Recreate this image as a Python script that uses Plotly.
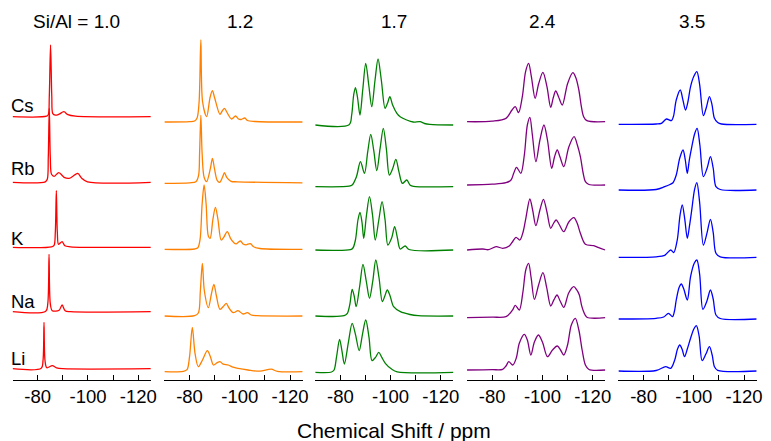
import plotly.graph_objects as go

# ---------------- data ----------------
COLUMN_TITLES = ["Si/Al = 1.0", "1.2", "1.7", "2.4", "3.5"]
CATIONS = ["Cs", "Rb", "K", "Na", "Li"]
TICK_VALUES = [-80, -100, -120]
TICK_LABELS = ["-80", "-100", "-120"]
X_TITLE = "Chemical Shift / ppm"

# each spectrum: (chemical shift / ppm, intensity / a.u.)
# Si/Al = 1.0
CS_10 = [(-70, 0), (-83.5, 0.5), (-84.2, 2), (-84.6, 20), (-85.1, 71.7), (-85.6, 20), (-86.0, 3),
         (-87.0, 1.5), (-88.5, 2.5), (-90.4, 5), (-92.0, 2), (-95, 0.5), (-125, 0)]
RB_10 = [(-70, 0), (-83.0, 0.5), (-83.8, 3), (-84.2, 25), (-84.6, 74), (-85.0, 25), (-85.5, 8),
         (-86.5, 6), (-88.4, 9.7), (-90.5, 5), (-92.5, 4), (-94.0, 6), (-95.9, 9), (-97.5, 4),
         (-99.8, 0.5), (-125, 0)]
K_10 = [(-70, 0), (-85.5, 0.5), (-86.5, 2), (-87.0, 15), (-87.4, 56.7), (-87.8, 15), (-88.3, 3),
        (-89.7, 5.7), (-90.8, 1.5), (-93, 0.5), (-125, 0)]
NA_10 = [(-70, 0), (-83.2, 0.5), (-84.0, 8), (-84.5, 57.3), (-85.0, 8), (-85.8, 1), (-88.5, 1.5),
         (-89.7, 6.7), (-90.9, 1), (-93, 0), (-125, 0)]
LI_10 = [(-70, 0), (-81.4, 0.5), (-82.1, 8), (-82.5, 46.3), (-82.9, 8), (-83.6, 1), (-85.8, 3),
         (-87.5, 0.8), (-90, 0), (-125, 0)]

# Si/Al = 1.2
CS_12 = [(-70, 0), (-80, 0.3), (-82, 1), (-83, 4), (-83.8, 20), (-84.5, 82), (-85.2, 20), (-86.8, 5.3),
         (-88.2, 25), (-89.1, 31.3), (-90.0, 24), (-92.1, 7.7), (-93.0, 11), (-93.9, 13.7), (-94.8, 10),
         (-96.7, 3), (-98.3, 6), (-99.5, 3), (-100.5, 2.5), (-102, 4), (-103, 1.5), (-106, 0.5), (-125, 0)]
RB_12 = [(-70, 0), (-80, 0.5), (-82.5, 1.5), (-83.6, 8), (-84.0, 30), (-84.5, 68), (-85.0, 30),
         (-85.8, 6), (-86.8, 1.7), (-88.3, 15), (-89.1, 25), (-89.9, 15), (-91.0, 3), (-92.0, 1),
         (-93.1, 6), (-93.9, 10.7), (-94.8, 6), (-96.5, 2), (-99, 1.5), (-125, 0.5)]
K_12 = [(-70, 0), (-82, 0.3), (-83.3, 1.5), (-84.2, 10), (-85.0, 45), (-85.8, 64.3), (-86.6, 45),
        (-87.5, 13), (-88.2, 11), (-89.3, 30), (-90.3, 42), (-91.3, 30), (-92.6, 9.3), (-93.6, 12),
        (-95.0, 17.7), (-96.3, 11), (-97.5, 7), (-98.5, 5.5), (-100.2, 8.3), (-101.5, 5), (-102.5, 4.5),
        (-104.2, 5.7), (-105.5, 2.5), (-108, 0.8), (-125, 0)]
NA_12 = [(-70, 0), (-82, 0.3), (-83.5, 3), (-84.3, 25), (-85.1, 52.7), (-85.9, 25), (-87.5, 8.3),
         (-88.7, 22), (-89.7, 31.7), (-90.7, 20), (-92.1, 6.7), (-93.6, 10), (-94.6, 12.7), (-95.7, 8),
         (-97.4, 3.3), (-99.3, 5.3), (-101.3, 2), (-103, 3.3), (-104.5, 1), (-107, 0.3), (-125, 0)]
LI_12 = [(-70, 0), (-77.5, 0.3), (-79.0, 2), (-80.0, 15), (-81.1, 44.3), (-82.2, 18), (-83.5, 5),
         (-85.2, 12), (-87.1, 21), (-88.3, 15), (-89.5, 6.7), (-91.0, 9), (-92.1, 10), (-93.4, 7.5),
         (-95.4, 6.7), (-97.3, 4.5), (-99.3, 3.3), (-103.3, 1.7), (-108, 0.5), (-112.5, 2.5),
         (-115, 0.3), (-125, 0)]

# Si/Al = 1.7
CS_17 = [(-70, 0), (-83.5, 0.3), (-84.5, 10), (-85.3, 30), (-86.0, 37.3), (-86.8, 28), (-87.8, 10),
         (-88.9, 35), (-90.1, 61.7), (-91.3, 40), (-92.5, 18.3), (-93.8, 45), (-95.0, 66), (-96.3, 45),
         (-97.8, 16.7), (-98.8, 22), (-99.7, 28.3), (-100.8, 20), (-102.5, 11.7), (-103.8, 8.3),
         (-106.4, 5), (-109, 3), (-111.7, 3.3), (-113.5, 1.5), (-115.6, 0.7), (-125, 0)]
RB_17 = [(-70, 0), (-83.5, 0.5), (-84.7, 1.7), (-86.4, 10), (-88.0, 25), (-89.6, 13.3), (-90.9, 35),
         (-92.1, 52.3), (-93.3, 36), (-94.5, 16), (-95.8, 38), (-97.1, 58.3), (-98.3, 38), (-99.5, 11.7),
         (-100.8, 18), (-102.1, 27.3), (-103.3, 15), (-104.7, 3.3), (-106.4, 6.7), (-107.8, 1.5),
         (-109.1, 0.3), (-125, 0)]
K_17 = [(-70, 0), (-84, 0.3), (-85.0, 2), (-86.0, 10), (-87.0, 30), (-87.8, 37.7), (-88.6, 28),
        (-89.3, 11.7), (-90.4, 35), (-91.6, 53.3), (-92.8, 35), (-93.9, 10), (-95.3, 30), (-96.6, 48.3),
        (-97.8, 30), (-98.9, 5), (-100.4, 12), (-101.6, 23.3), (-102.7, 12), (-103.8, 1), (-105.8, 4),
        (-107.3, 0.5), (-125, 0)]
NA_17 = [(-70, 0), (-81.5, 0.3), (-82.8, 2.7), (-83.8, 12), (-84.7, 26.7), (-85.5, 20), (-86.3, 9.3),
         (-87.7, 30), (-89.0, 51.7), (-90.3, 35), (-91.6, 17.7), (-92.9, 35), (-94.1, 56), (-95.4, 38),
         (-96.7, 14.3), (-97.7, 20), (-98.7, 26), (-99.8, 20), (-101.2, 9.3), (-103.9, 4.3),
         (-107.7, 1.5), (-111, 0.3), (-125, 0)]
LI_17 = [(-70, 0), (-76.5, 0.3), (-77.5, 2.3), (-78.5, 15.7), (-79.7, 33), (-80.6, 22), (-81.6, 8.3),
         (-83.2, 30), (-84.7, 49), (-86.0, 38), (-87.5, 21.7), (-88.8, 38), (-90.1, 52.3), (-91.4, 35),
         (-92.6, 11.7), (-94.0, 15), (-95.3, 20), (-96.5, 15), (-97.9, 9), (-100.5, 3), (-102.6, 0.5),
         (-125, 0)]

# Si/Al = 2.4
CS_24 = [(-70, 0), (-80, 0.5), (-85.5, 3.3), (-87.9, 11.7), (-89.2, 15), (-90.5, 9), (-92.0, 25),
         (-93.3, 50), (-94.5, 58.3), (-95.6, 45), (-97.1, 23.3), (-98.5, 38), (-100.2, 49.3),
         (-101.8, 35), (-103.3, 14.3), (-104.3, 24), (-105.3, 30.7), (-106.4, 25), (-107.9, 16.7),
         (-110.0, 38), (-112.1, 49), (-113.3, 44), (-114.5, 31.7), (-115.5, 15), (-116.4, 5),
         (-117.7, 1), (-125, 0)]
RB_24 = [(-70, 0), (-80, 0.8), (-85.5, 2.3), (-87.5, 5), (-88.6, 12), (-89.7, 17.7), (-91.4, 11.7),
         (-92.8, 30), (-94.0, 60), (-95.0, 67.7), (-96.0, 50), (-97.4, 23.3), (-99.0, 45), (-100.6, 60),
         (-102.0, 45), (-103.7, 16.7), (-104.8, 28), (-105.9, 35), (-107.0, 28), (-108.5, 18.3),
         (-110.5, 38), (-112.6, 48.3), (-113.9, 40), (-115.1, 28.3), (-116.2, 12), (-117.1, 3.3),
         (-118.5, 0.5), (-125, 0)]
K_24 = [(-70, 0), (-76.3, 1), (-78.5, 0.3), (-81.6, 3.3), (-84.2, 1.7), (-86.8, 4), (-88.3, 9),
        (-89.5, 12.7), (-91.0, 10), (-92.3, 18), (-93.4, 31.7), (-95.0, 51), (-96.1, 40), (-97.4, 24.3),
        (-99.0, 40), (-100.4, 50.7), (-101.8, 38), (-103.3, 21.7), (-104.5, 27), (-105.5, 30),
        (-106.8, 25), (-108.5, 18.3), (-110.5, 28), (-112.5, 32.3), (-113.8, 27), (-115.1, 16.7),
        (-117.1, 5.7), (-120.4, 4.3), (-122.4, 2.3), (-125, 0)]
NA_24 = [(-70, 0), (-80, 0.5), (-85.5, 1), (-87.3, 5), (-88.2, 8), (-89.2, 12.3), (-90.8, 7.7),
         (-92.2, 25), (-93.4, 48), (-94.5, 54.3), (-95.5, 40), (-96.8, 18.3), (-98.5, 33), (-100.2, 45),
         (-101.7, 30), (-103.3, 11.7), (-104.6, 18), (-105.8, 22.7), (-107.0, 17), (-108.5, 10.3),
         (-110.5, 25), (-112.5, 31), (-113.6, 28), (-114.7, 22.7), (-115.6, 12), (-116.4, 6),
         (-117.7, 0.5), (-125, 0)]
LI_24 = [(-70, 0), (-80, 0.3), (-84.2, 0.7), (-85.5, 4), (-86.6, 8.3), (-88.2, 5), (-89.6, 12),
         (-90.8, 26.7), (-92.8, 35.7), (-94.0, 30), (-95.4, 15), (-96.8, 28), (-98.4, 35), (-100.0, 28),
         (-102.0, 13.3), (-104.0, 20), (-105.9, 24), (-107.2, 20), (-108.5, 15), (-110.0, 25),
         (-111.5, 45), (-113.1, 51.7), (-114.5, 40), (-115.8, 20), (-117.1, 5), (-118.5, 0.5), (-125, 0)]

# Si/Al = 3.5
CS_35 = [(-70, 0), (-85, 0.3), (-87.1, 1), (-89.1, 5.3), (-91.1, 3.7), (-91.9, 8), (-93.0, 24.3),
         (-94.6, 34.3), (-95.6, 25), (-96.7, 14.3), (-97.6, 22), (-98.7, 37.7), (-100.0, 48),
         (-101.2, 52.7), (-102.3, 40), (-103.8, 8.7), (-105.0, 17), (-106.2, 27.7), (-107.2, 20),
         (-108.2, 6), (-109.5, 1.7), (-111, 0.3), (-125, 0)]
RB_35 = [(-70, 0), (-85, 0.5), (-88.4, 3.3), (-90.5, 5.5), (-91.7, 7.3), (-93.0, 15), (-94.4, 32),
         (-95.7, 40), (-96.6, 30), (-97.4, 16.7), (-98.2, 30), (-99.2, 43.3), (-100.3, 56), (-101.3, 61.7),
         (-102.4, 45), (-103.8, 13.3), (-105.3, 22), (-106.6, 33.3), (-107.7, 22), (-108.8, 3.3),
         (-110.5, 0.5), (-125, 0)]
K_35 = [(-70, 0), (-85, 0.5), (-88.4, 2), (-90.8, 7.3), (-92.0, 4.7), (-93.4, 17.3), (-94.5, 42),
        (-95.4, 52.3), (-96.4, 38), (-97.4, 19), (-98.3, 32), (-99.2, 48), (-100.3, 68), (-101.2, 74.7),
        (-102.3, 55), (-103.8, 12.3), (-105.3, 25), (-106.6, 38), (-107.7, 25), (-108.8, 4),
        (-110.5, 0.5), (-125, 0)]
NA_35 = [(-70, 0), (-85, 0.7), (-88, 2), (-89.9, 5.7), (-91.5, 2.3), (-92.3, 8), (-93.0, 19),
         (-94.2, 32), (-95.0, 35), (-96.0, 30), (-97.4, 19), (-98.7, 42.3), (-100.2, 56), (-101.2, 59),
         (-102.3, 45), (-103.6, 9.7), (-105.2, 18), (-106.6, 29), (-107.7, 20), (-108.8, 4),
         (-110.5, 0.5), (-125, 0)]
LI_35 = [(-70, 0), (-85, 0.5), (-88.8, 4.3), (-90.8, 2.7), (-92.4, 11), (-93.5, 22), (-94.4, 26),
         (-95.3, 22), (-96.3, 14.3), (-97.4, 22), (-98.7, 32.7), (-100.0, 42), (-101.0, 45.3),
         (-102.1, 35), (-103.3, 10.3), (-104.8, 17), (-106.2, 24.3), (-107.3, 16), (-108.2, 4.3),
         (-109.5, 0.7), (-125, 0)]

SPECTRA = [
    [CS_10, RB_10, K_10, NA_10, LI_10],
    [CS_12, RB_12, K_12, NA_12, LI_12],
    [CS_17, RB_17, K_17, NA_17, LI_17],
    [CS_24, RB_24, K_24, NA_24, LI_24],
    [CS_35, RB_35, K_35, NA_35, LI_35],
]

# ---------------- layout / style ----------------
W, H = 771, 441
COLORS = ["#FF0000", "#FF8000", "#008000", "#800080", "#0000FF"]
COL_LEFT_PX = [12.7, 165.7, 317.7, 470.7, 623.3]
COL_WIDTH_PX = 139.3
AXIS_Y_PX = 380.0
# vertical stacking: baseline position (px from top) of each trace
BASELINES_PX = [
    [116.7, 182.3, 247.3, 311.7, 368.7],
    [122.0, 183.3, 249.3, 316.0, 371.7],
    [125.0, 186.7, 250.0, 316.0, 372.3],
    [121.7, 185.0, 250.0, 317.7, 370.0],
    [124.3, 190.0, 257.3, 319.0, 371.0],
]
TITLE_X_PX = [77, 242, 396.7, 547, 697]
TITLE_Y_PX = 21.7
ROW_LABEL_Y_PX = [105, 168.3, 238.3, 301.7, 358.3]
FONT = "Liberation Sans, Arial, sans-serif"

fig = go.Figure()
for c in range(5):
    xa = "x" if c == 0 else f"x{c+1}"
    ya = "y" if c == 0 else f"y{c+1}"
    for r in range(5):
        spec = SPECTRA[c][r]
        off = AXIS_Y_PX - BASELINES_PX[c][r]
        fig.add_trace(go.Scatter(
            x=[p for p, _ in spec], y=[v + off for _, v in spec],
            mode="lines", line=dict(color=COLORS[c], width=1.3, shape="spline", smoothing=0.9),
            xaxis=xa, yaxis=ya, showlegend=False, hoverinfo="skip"))

layout = dict(width=W, height=H, margin=dict(l=0, r=0, t=0, b=0),
              paper_bgcolor="white", plot_bgcolor="white", showlegend=False,
              font=dict(family=FONT, color="black"))
ydom0 = (H - AXIS_Y_PX) / H
for c in range(5):
    xk = "xaxis" if c == 0 else f"xaxis{c+1}"
    yk = "yaxis" if c == 0 else f"yaxis{c+1}"
    x0 = COL_LEFT_PX[c] / W
    x1 = (COL_LEFT_PX[c] + COL_WIDTH_PX) / W
    layout[xk] = dict(domain=[x0, x1], range=[-70, -125], anchor="y" if c == 0 else f"y{c+1}",
                      showline=True, linecolor="black", linewidth=1, showgrid=False, zeroline=False,
                      ticks="inside", ticklen=5, tickwidth=1, tickcolor="black",
                      tickvals=TICK_VALUES, ticktext=TICK_LABELS,
                      tickfont=dict(size=18.5, family=FONT, color="black"),
                      minor=dict(tickvals=[-70, -90, -110], ticks="inside", ticklen=5,
                                 tickwidth=1, tickcolor="black", showgrid=False),
                      fixedrange=True)
    layout[yk] = dict(domain=[ydom0, 1], range=[0, AXIS_Y_PX], visible=False,
                      anchor="x" if c == 0 else f"x{c+1}", fixedrange=True)
fig.update_layout(**layout)

for c in range(5):
    fig.add_annotation(text=COLUMN_TITLES[c], xref="paper", yref="paper",
                       x=TITLE_X_PX[c] / W, y=1 - TITLE_Y_PX / H, xanchor="center", yanchor="middle",
                       showarrow=False, font=dict(size=19, family=FONT, color="black"))
for r in range(5):
    fig.add_annotation(text=CATIONS[r], xref="paper", yref="paper",
                       x=9 / W, y=1 - ROW_LABEL_Y_PX[r] / H, xanchor="left", yanchor="middle",
                       showarrow=False, font=dict(size=18.5, family=FONT, color="black"))
fig.add_annotation(text=X_TITLE, xref="paper", yref="paper",
                   x=396.7 / W, y=1 - 430 / H, xanchor="center", yanchor="middle",
                   showarrow=False, font=dict(size=21, family=FONT, color="black"))

fig.write_html("out.html", config={"displayModeBar": False},
               post_script="document.body.style.margin='0px';document.body.style.overflow='hidden';")
